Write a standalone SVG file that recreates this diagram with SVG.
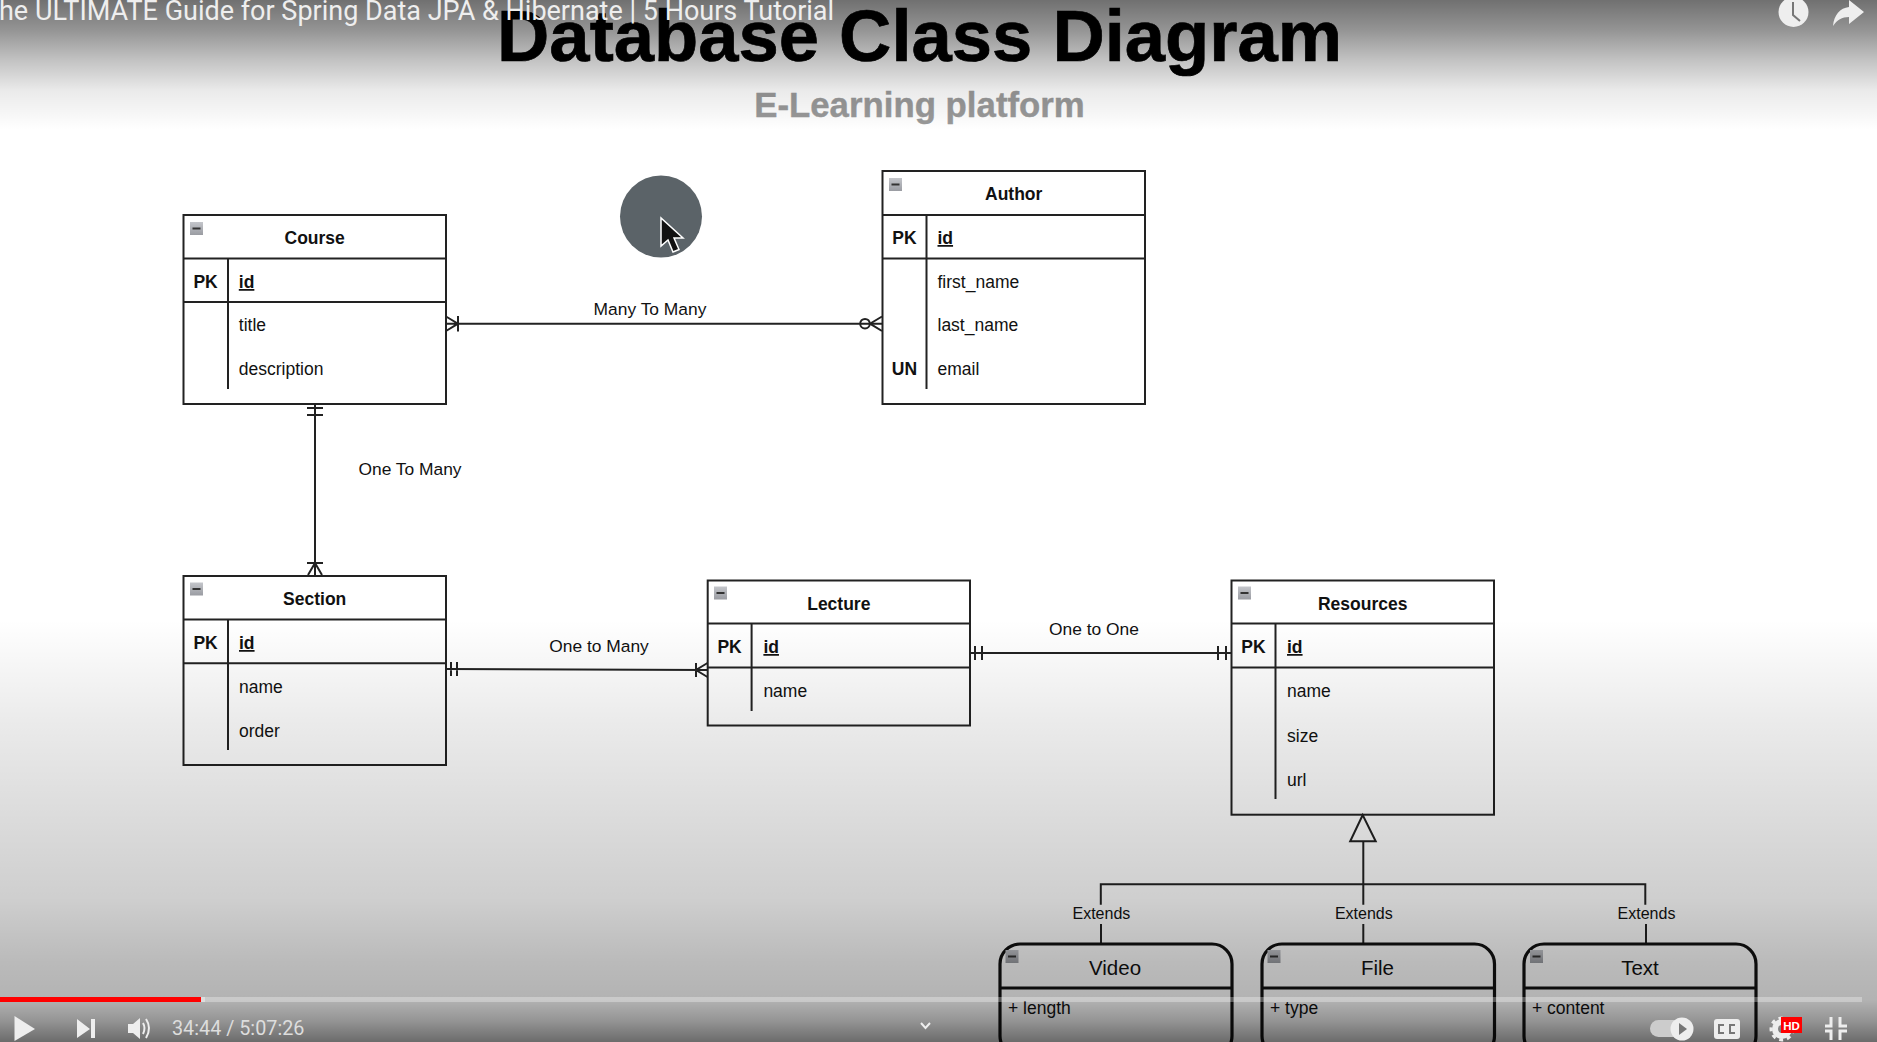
<svg xmlns="http://www.w3.org/2000/svg" width="1877" height="1042" viewBox="0 0 1877 1042">
<style>
text{font-family:"Liberation Sans",Arial,sans-serif;fill:#111}
.box{fill:none;stroke:#222;stroke-width:2}
.rbox{fill:none;stroke:#111;stroke-width:3.2}
.ln{fill:none;stroke:#222;stroke-width:2}
.b{font-size:17.5px;font-weight:700}
.m{text-anchor:middle}
.f{font-size:17.5px}
.u{text-decoration:underline}
.lb{font-size:17.4px;text-anchor:middle}
.ex{font-size:16px;text-anchor:middle}
.cl{font-size:20.5px;text-anchor:middle}
.yt{font-family:Roboto,"Liberation Sans",sans-serif;fill:#eee}
.ic{fill:#eee;stroke:none}
</style>
<defs>
<linearGradient id="top" gradientUnits="userSpaceOnUse" x1="0" y1="0" x2="0" y2="130">
<stop offset="0" stop-color="#000" stop-opacity=".56"/>
<stop offset=".23" stop-color="#000" stop-opacity=".42"/>
<stop offset=".46" stop-color="#000" stop-opacity=".24"/>
<stop offset=".7" stop-color="#000" stop-opacity=".08"/>
<stop offset="1" stop-color="#000" stop-opacity="0"/>
</linearGradient>
<linearGradient id="bot" gradientUnits="userSpaceOnUse" x1="0" y1="620" x2="0" y2="1042">
<stop offset="0" stop-color="#000" stop-opacity="0"/>
<stop offset=".24" stop-color="#000" stop-opacity=".08"/>
<stop offset=".43" stop-color="#000" stop-opacity=".13"/>
<stop offset=".66" stop-color="#000" stop-opacity=".19"/>
<stop offset=".81" stop-color="#000" stop-opacity=".27"/>
<stop offset=".9" stop-color="#000" stop-opacity=".3"/>
<stop offset=".95" stop-color="#000" stop-opacity=".42"/>
<stop offset="1" stop-color="#000" stop-opacity=".58"/>
</linearGradient>
<linearGradient id="mg" x1="0" y1="0" x2="0" y2="1">
<stop offset="0" stop-color="#c4c6cb"/><stop offset="1" stop-color="#9a9ca2"/>
</linearGradient>
<g id="min"><rect width="13" height="13" fill="url(#mg)"/><rect x="2.5" y="5.5" width="8" height="2" fill="#333"/></g>
</defs>
<rect width="1877" height="1042" fill="#fff"/>
<g id="heading">
<text x="919.6" y="61" class="m" font-size="72.4" font-weight="700" stroke="#000" stroke-width=".7" style="fill:#000">Database Class Diagram</text>
<text x="919.5" y="117" class="m" font-size="34.8" font-weight="700" stroke="#999" stroke-width=".4" style="fill:#999">E-Learning platform</text>
</g>
<g id="connectors">
<path class="ln" d="M446 323.7H882.5M458 316V331.5M446 316.5L458 323.7L446 331"/>
<circle class="ln" cx="865" cy="323.7" r="4.8"/>
<path class="ln" d="M882 316.5L870 323.7L882 331"/>
<path class="ln" d="M315 404V575M307 408H323M307 415H323M307 563H323M308 575L315 563L322 575"/>
<path class="ln" d="M446 669L707.7 670M451 662V676M457 662V676M696 663V677M707.5 663L696 670L707.5 677"/>
<path class="ln" d="M970 653H1231.5M975 646V660M982 646V660M1218 646V660M1226 646V660"/>
<path class="ln" d="M1363.3 841V884.3M1100.8 904.7V884.3H1645.3V904.7M1363.3 884.3V904.7M1101 924V943.5M1363.3 924V943.5M1646 924V943.5"/>
<path class="ln" d="M1362.7 815L1350.2 841.3H1375.7Z"/>
<text x="1101.4" y="919" class="ex">Extends</text>
<text x="1363.8" y="919" class="ex">Extends</text>
<text x="1646.5" y="919" class="ex">Extends</text>
<text x="650" y="315" class="lb">Many To Many</text>
<text x="410" y="475" class="lb">One To Many</text>
<text x="599" y="651.7" class="lb">One to Many</text>
<text x="1094" y="635" class="lb">One to One</text>
</g>
<g id="course">
<rect class="box" x="183.5" y="215" width="262.5" height="189"/>
<path class="ln" d="M183.5 258.5H446M183.5 302H446M228 258.5V389"/>
<use href="#min" x="190" y="222"/>
<text x="314.7" y="244" class="b m">Course</text>
<text x="205.6" y="288" class="b m">PK</text>
<text x="238.8" y="288" class="b u">id</text>
<text x="238.8" y="331" class="f">title</text>
<text x="238.8" y="375" class="f">description</text>
</g>
<g id="author">
<rect class="box" x="882.5" y="171" width="262.5" height="233"/>
<path class="ln" d="M882.5 215H1145M882.5 258.5H1145M926.5 215V389"/>
<use href="#min" x="889" y="178"/>
<text x="1013.7" y="200" class="b m">Author</text>
<text x="904.5" y="244" class="b m">PK</text>
<text x="937.5" y="244" class="b u">id</text>
<text x="937.5" y="287.5" class="f">first_name</text>
<text x="937.5" y="331" class="f">last_name</text>
<text x="904.5" y="375" class="b m">UN</text>
<text x="937.5" y="375" class="f">email</text>
</g>
<g id="section">
<rect class="box" x="183.5" y="576" width="262.5" height="189"/>
<path class="ln" d="M183.5 619.5H446M183.5 663.3H446M228 619.5V750"/>
<use href="#min" x="190" y="582.5"/>
<text x="314.7" y="605" class="b m">Section</text>
<text x="205.6" y="649" class="b m">PK</text>
<text x="239" y="649" class="b u">id</text>
<text x="239" y="692.7" class="f">name</text>
<text x="239" y="736.500" class="f">order</text>
</g>
<g id="lecture">
<rect class="box" x="707.7" y="580.5" width="262.3" height="145"/>
<path class="ln" d="M707.7 623.5H970M707.7 667.5H970M751.6 623.5V711"/>
<use href="#min" x="714" y="586.5"/>
<text x="838.8" y="609.8" class="b m">Lecture</text>
<text x="729.6" y="653" class="b m">PK</text>
<text x="763.4" y="653" class="b u">id</text>
<text x="763.4" y="696.7" class="f">name</text>
</g>
<g id="resources">
<rect class="box" x="1231.5" y="580.5" width="262.5" height="234.2"/>
<path class="ln" d="M1231.5 623.5H1494M1231.5 667.5H1494M1275.5 623.5V799"/>
<use href="#min" x="1238" y="586.5"/>
<text x="1362.7" y="609.8" class="b m">Resources</text>
<text x="1253.5" y="653" class="b m">PK</text>
<text x="1287" y="653" class="b u">id</text>
<text x="1287" y="696.7" class="f">name</text>
<text x="1287" y="741.500" class="f">size</text>
<text x="1287" y="785.7" class="f">url</text>
</g>
<g id="video">
<rect class="rbox" x="1000" y="944" width="232" height="112" rx="20"/>
<path class="rbox" d="M1000 988H1232"/>
<use href="#min" x="1005.5" y="950"/>
<text x="1115" y="974.7" class="cl">Video</text>
<text x="1008" y="1013.7" class="f">+ length</text>
</g>
<g id="file">
<rect class="rbox" x="1262" y="944" width="232.5" height="112" rx="20"/>
<path class="rbox" d="M1262 988H1494.5"/>
<use href="#min" x="1267.5" y="950"/>
<text x="1377.5" y="974.7" class="cl">File</text>
<text x="1270" y="1013.7" class="f">+ type</text>
</g>
<g id="text">
<rect class="rbox" x="1524" y="944" width="232" height="112" rx="20"/>
<path class="rbox" d="M1524 988H1756"/>
<use href="#min" x="1530" y="950"/>
<text x="1640" y="974.7" class="cl">Text</text>
<text x="1532" y="1013.7" class="f">+ content</text>
</g>
<g id="pointer">
<circle cx="661" cy="216.5" r="41" fill="#5b6368"/>
<path d="M661 218V246L668 240L673 252L679 249.500L674 238H683Z" fill="#111" stroke="#fff" stroke-width="1.500"/>
</g>
<g id="player">
<rect width="1877" height="130" fill="url(#top)"/>
<rect y="620" width="1877" height="422" fill="url(#bot)"/>
<text class="yt" x="-1" y="20" font-size="27">he ULTIMATE Guide for Spring Data JPA &amp; Hibernate | 5 Hours Tutorial</text>
<circle class="ic" cx="1793.500" cy="12" r="15"/>
<path d="M1793 2V15L1800 21" fill="none" stroke="#777" stroke-width="2"/>
<path class="ic" d="M1849 0L1864 12L1849 24V17C1842 17 1837 20 1833 26C1834 15 1840 8 1849 7Z"/>
<rect y="997" width="1862" height="5" fill="#fff" fill-opacity=".3"/>
<rect y="997" width="201" height="5" fill="#f00"/>
<rect x="201" y="997" width="4" height="5" fill="#ddd"/>
<path class="ic" d="M14.500 1016L35 1029L14.500 1041Z"/>
<path class="ic" d="M77 1019L90 1029L77 1038ZM91 1019H95V1038H91Z"/>
<path class="ic" d="M128 1024H133L140 1018V1039L133 1033H128Z"/>
<path d="M143 1023Q146 1028 143 1034M146 1019Q152 1028 146 1038" fill="none" stroke="#eee" stroke-width="2"/>
<text class="yt" x="172" y="1034.500" font-size="19.800" style="fill:#ddd">34:44 / 5:07:26</text>
<path d="M921 1023L925.500 1028L930 1023" fill="none" stroke="#eee" stroke-width="2"/>
<rect x="1650" y="1020" width="32" height="17" rx="8.500" fill="#ccc"/>
<circle class="ic" cx="1682" cy="1029" r="11.500"/>
<path d="M1679 1023L1687 1029L1679 1035Z" fill="#777"/>
<rect class="ic" x="1714" y="1019" width="26" height="20" rx="3"/>
<path d="M1724 1025H1719V1033H1724M1735 1025H1730V1033H1735" fill="none" stroke="#777" stroke-width="2"/>
<circle cx="1782" cy="1029" r="7" fill="none" stroke="#eee" stroke-width="6"/>
<circle cx="1782" cy="1029" r="11" fill="none" stroke="#eee" stroke-width="3" stroke-dasharray="4 4"/>
<rect x="1781" y="1017" width="21" height="16" fill="#f00"/>
<text x="1791.500" y="1030" text-anchor="middle" font-size="11.500" font-weight="700" style="fill:#fff">HD</text>
<path d="M1831 1017V1026H1825M1840 1017V1026H1847M1831 1040V1031H1825M1840 1040V1031H1847" fill="none" stroke="#eee" stroke-width="3"/>
</g>
</svg>
